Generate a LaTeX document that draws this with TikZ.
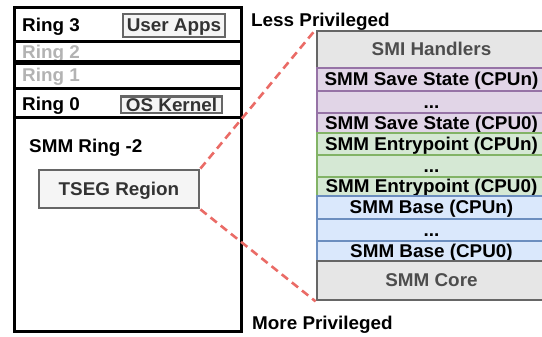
\documentclass[tikz,border=0pt]{standalone}
\usepackage{fontspec}
\setmainfont{Liberation Sans}[FakeStretch=1.02]
\definecolor{gborder}{HTML}{666666}
\definecolor{gfill}{HTML}{F5F5F5}
\definecolor{gtext}{HTML}{333333}
\definecolor{ltext}{HTML}{B3B3B3}
\definecolor{stackfill}{HTML}{E6E6E6}
\definecolor{stacktext}{HTML}{4D4D4D}
\definecolor{pdraw}{HTML}{9673A6}
\definecolor{pfill}{HTML}{E1D5E7}
\definecolor{gdraw}{HTML}{82B366}
\definecolor{gfil}{HTML}{D5E8D4}
\definecolor{bdraw}{HTML}{6C8EBF}
\definecolor{bfil}{HTML}{DAE8FC}
\definecolor{dashred}{HTML}{EA6B66}
\newcommand\dfont{\fontsize{18.5}{21}\selectfont\bfseries}
\tikzset{
  ringbox/.style={draw=black, line width=3pt, inner sep=0pt, minimum width=227pt},
  lbl/.style={font=\dfont, inner sep=0pt, anchor=base west},
  tagbox/.style={draw=gborder, fill=gfill, line width=2.8pt, text=gtext, font=\dfont,
    inner sep=0pt, text height=13pt, text depth=0pt},
  rowbase/.style={font=\dfont, inner sep=0pt, text height=13pt, text depth=0pt,
    minimum width=229pt},
  greyrow/.style={rowbase, draw=gborder, fill=stackfill, text=stacktext, line width=2.8pt},
  purprow/.style={rowbase, draw=pdraw, fill=pfill, line width=2.2pt},
  greenrow/.style={rowbase, draw=gdraw, fill=gfil, line width=2.2pt},
  bluerow/.style={rowbase, draw=bdraw, fill=bfil, line width=2.2pt},
  link/.style={draw=dashred, line width=2.6pt, dash pattern=on 8pt off 5pt}
}
\begin{document}
\begin{tikzpicture}[x=1pt, y=-1pt]
\useasboundingbox (0,0) rectangle (542,337);
\clip (0,0) rectangle (542,337);
% ring labels
\node[lbl] (l3) at (22,31.5) {Ring 3};
\node[lbl, text=ltext] (l2) at (22,59) {Ring 2};
\node[lbl, text=ltext] (l1) at (22,81.5) {Ring 1};
\node[lbl] (l0) at (22,111) {Ring 0};
\node[lbl] (lsmm) at (29,153) {SMM Ring -2};
% ring boxes
\node[ringbox, minimum height=34pt] (r3) at (127.5,25) {};
\node[ringbox, minimum height=20pt] (r2) at (127.5,52) {};
\node[ringbox, minimum height=25pt] (r1) at (127.5,76.5) {};
\node[ringbox, minimum height=29pt] (r0) at (127.5,103.5) {};
\node[ringbox, minimum height=213pt] (smm) at (127.5,224.5) {};
% tags
\node[tagbox, minimum width=102pt, minimum height=23pt] (apps) at (174,25.5) {User Apps};
\node[tagbox, minimum width=101pt, minimum height=16.5pt] (kernel) at (171.5,104.8) {OS Kernel};
\node[tagbox, minimum width=160pt, minimum height=38pt] (tseg) at (119,189) {TSEG Region};
% privilege labels
\node[lbl] (less) at (251,27) {Less Privileged};
\node[lbl] (more) at (252,330) {More Privileged};
% stack
\node[greyrow, minimum height=37pt] (smi) at (431.5,49.5) {SMI Handlers};
\node[purprow, minimum height=23pt] (sn) at (431.5,79.5) {SMM Save State (CPUn)};
\node[purprow, minimum height=22pt] (sd) at (431.5,102) {...};
\node[purprow, minimum height=20pt] (s0) at (431.5,123) {SMM Save State (CPU0)};
\node[greenrow, minimum height=22pt] (en) at (431.5,144) {SMM Entrypoint (CPUn)};
\node[greenrow, minimum height=22pt] (ed) at (431.5,166) {...};
\node[greenrow, minimum height=19pt] (e0) at (431.5,186.5) {SMM Entrypoint (CPU0)};
\node[bluerow, minimum height=23pt] (bn) at (431.5,207.5) {SMM Base (CPUn)};
\node[bluerow, minimum height=22pt] (bd) at (431.5,230) {...};
\node[bluerow, minimum height=20pt] (b0) at (431.5,251) {SMM Base (CPU0)};
\node[greyrow, minimum height=39pt] (core) at (431.5,280.5) {SMM Core};
% links
\draw[link] (tseg.north east) -- (smi.north west);
\draw[link] (tseg.south east) -- (core.south west);
\end{tikzpicture}
\end{document}
